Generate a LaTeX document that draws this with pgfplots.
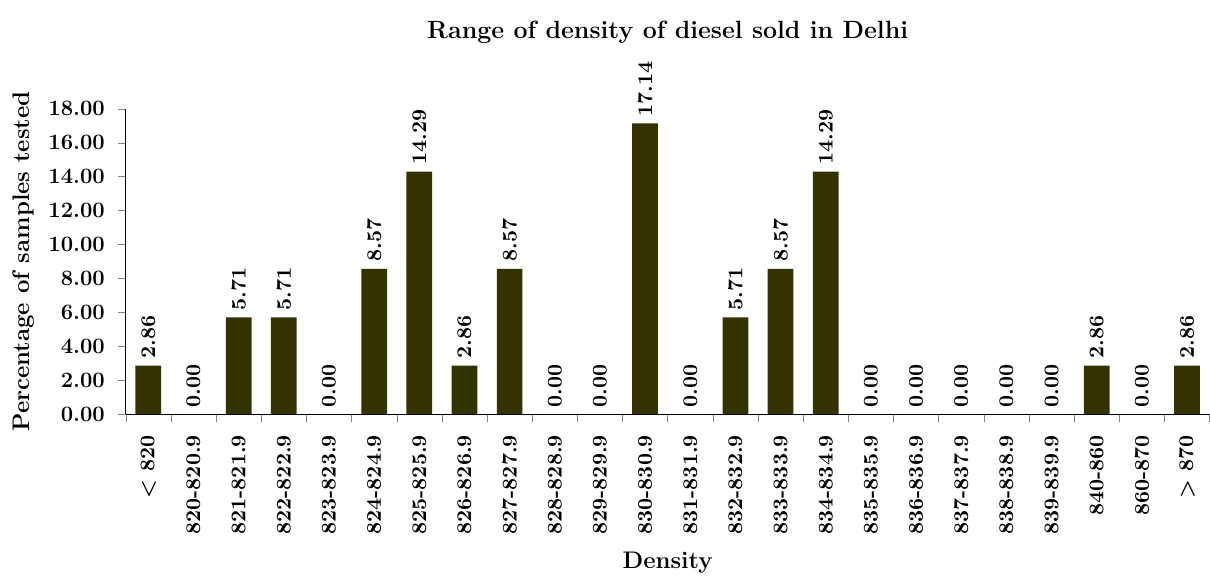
\documentclass[border=0pt]{standalone}
\usepackage{pgfplots}
\pgfplotsset{compat=1.18}
\definecolor{barolive}{HTML}{333300}
\begin{document}
\begin{tikzpicture}
\begin{axis}[
	scale only axis,
	width=543pt,
	height=153pt,
	ybar,
	bar width=0.57,
	xmin=-0.5, xmax=23.5,
	ymin=0, ymax=18,
	enlarge x limits=false,
	axis lines*=left,
	tick align=outside,
	major tick length=4pt,
	xtick={-0.5,0.5,...,23.5},
	x tick label as interval,
	xticklabels={< 820,820-820.9,821-821.9,822-822.9,823-823.9,824-824.9,825-825.9,826-826.9,827-827.9,828-828.9,829-829.9,830-830.9,831-831.9,832-832.9,833-833.9,834-834.9,835-835.9,836-836.9,837-837.9,838-838.9,839-839.9,840-860,860-870,> 870},
	xticklabel style={rotate=90, anchor=east, xshift=-3pt, font=\bfseries\fontsize{10.5}{12}\selectfont},
	ytick={0,2,...,18},
	/pgf/number format/assume math mode=true,
	yticklabel style={xshift=-3pt, font=\bfseries\fontsize{11}{12}\selectfont, /pgf/number format/.cd, fixed, fixed zerofill, precision=2},
	title={Range of density of diesel sold in Delhi},
	title style={font=\bfseries\fontsize{12.5}{14}\selectfont, yshift=23pt},
	xlabel={Density},
	ylabel={Percentage of samples tested},
	label style={font=\bfseries\fontsize{12}{14}\selectfont},
	xlabel style={yshift=-2pt},
	ylabel style={yshift=0pt},
	nodes near coords={\pgfmathprintnumber[fixed,fixed zerofill,precision=2]{\pgfplotspointmeta}},
	every node near coord/.append style={rotate=90, anchor=west, font=\bfseries\fontsize{10.5}{12}\selectfont, black},
]
\addplot[fill=barolive, draw=none] coordinates {
	(0,2.86) (1,0) (2,5.71) (3,5.71) (4,0) (5,8.57) (6,14.29) (7,2.86)
	(8,8.57) (9,0) (10,0) (11,17.14) (12,0) (13,5.71) (14,8.57) (15,14.29)
	(16,0) (17,0) (18,0) (19,0) (20,0) (21,2.86) (22,0) (23,2.86)
};
\end{axis}
\path (current axis.north west) ++(-63pt,54.5pt);
\end{tikzpicture}
\end{document}
